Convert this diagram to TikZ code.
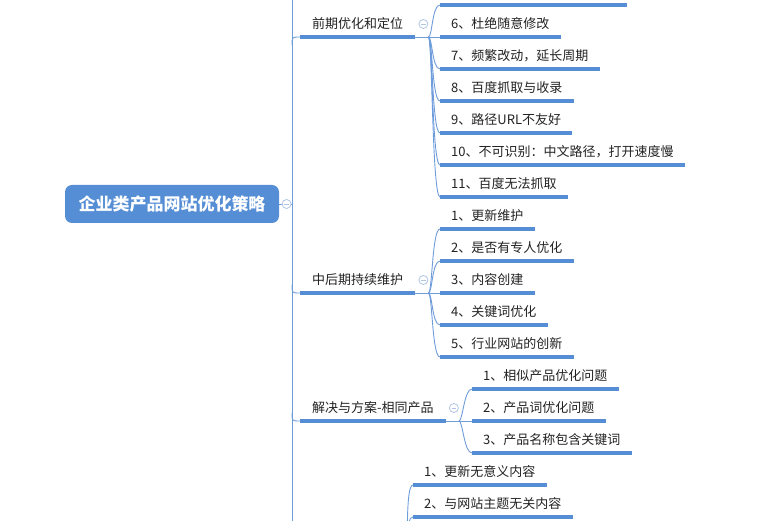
\documentclass[tikz,border=0pt]{standalone}
\usepackage{fontspec}
\setmainfont{Noto Sans CJK SC}
\usepackage{tikz}
\usetikzlibrary{positioning, calc}
\definecolor{mapblue}{RGB}{85,142,213}
\definecolor{linkblue}{RGB}{110,156,219}
\definecolor{togglegray}{RGB}{176,196,228}
\definecolor{inkdark}{RGB}{34,34,34}
\tikzset{
  rootbox/.style={rectangle, fill=mapblue, rounded corners=7pt, text=white,
    font=\fontsize{17}{20}\selectfont\bfseries, minimum width=214pt,
    minimum height=38pt, inner sep=0pt},
  topic/.style={anchor=south west, text=inkdark, font=\fontsize{13}{15}\selectfont,
    inner xsep=12pt, inner ysep=5pt, text height=10pt, text depth=3pt},
  leaf/.style={topic, inner xsep=11pt},
  uline/.style={line width=3.5pt, color=mapblue},
  link/.style={line width=0.9pt, color=linkblue},
  toggle/.style={circle, draw=togglegray, fill=white, minimum size=9pt,
    inner sep=0pt, line width=0.8pt,
    path picture={\draw[togglegray, line width=0.8pt]
      ([xshift=-2.3pt]path picture bounding box.center) --
      ([xshift=2.3pt]path picture bounding box.center);}}
}

\begin{document}
\begin{tikzpicture}[x=1pt, y=-1pt]
  \useasboundingbox (0,0) rectangle (764,521);
  \clip (0,0) rectangle (764,521);

  % Root
  \node[rootbox] (root) at (172,204) {企业类产品网站优化策略};
  \coordinate (trunktop) at (292,-10);
  \coordinate (trunkbot) at (292,540);

  % Branches
  \node[topic] (b1) at (300,37) {前期优化和定位};
  \node[topic] (b2) at (300,293) {中后期持续维护};
  \node[topic] (b3) at (300,421) {解决与方案-相同产品};

  % Leaves of b1
  \node[leaf, minimum width=187pt] (a5) at (440,5) {};
  \node[leaf] (a6) at (440,37) {6、杜绝随意修改};
  \node[leaf] (a7) at (440,69) {7、频繁改动，延长周期};
  \node[leaf] (a8) at (440,101) {8、百度抓取与收录};
  \node[leaf] (a9) at (440,133) {9、路径URL不友好};
  \node[leaf] (a10) at (440,165) {10、不可识别：中文路径，打开速度慢};
  \node[leaf] (a11) at (440,197) {11、百度无法抓取};

  % Leaves of b2
  \node[leaf] (m1) at (440,229) {1、更新维护};
  \node[leaf] (m2) at (440,261) {2、是否有专人优化};
  \node[leaf] (m3) at (440,293) {3、内容创建};
  \node[leaf] (m4) at (440,325) {4、关键词优化};
  \node[leaf] (m5) at (440,357) {5、行业网站的创新};

  % Leaves of b3
  \node[leaf] (s1) at (472,389) {1、相似产品优化问题};
  \node[leaf] (s2) at (472,421) {2、产品词优化问题};
  \node[leaf] (s3) at (472,453) {3、产品名称包含关键词};

  % Leaves of the cut-off branch
  \node[leaf] (d1) at (413,485) {1、更新无意义内容};
  \node[leaf] (d2) at (413,517) {2、与网站主题无关内容};

  % Fan points
  \coordinate (f1) at ($(b1.south east)+(13,0)$);
  \coordinate (f2) at ($(b2.south east)+(13,0)$);
  \coordinate (f3) at ($(b3.south east)+(13,0)$);
  \coordinate (f4) at (405,549);

  % Connections
  \draw[link] (trunktop) -- (trunkbot);
  \draw[link] (root.east) -- (root.east -| trunktop);
  \draw[link] (b1.south west -| trunktop) ++(0,8) .. controls +(0,-8) .. (b1.south west);
  \draw[link] (b2.south west -| trunktop) ++(0,-8) .. controls +(0,8) .. (b2.south west);
  \draw[link] (b3.south west -| trunktop) ++(0,-8) .. controls +(0,8) .. (b3.south west);
  \draw[link] (b1.south east) -- (a6.south west);
  \draw[link] (b2.south east) -- (m3.south west);
  \draw[link] (b3.south east) -- (s2.south west);
  \foreach \c in {a5,a7,a8,a9,a10,a11}
    \draw[link] (f1) .. controls +(4,0) and +(-8,0) .. (\c.south west);
  \foreach \c in {m1,m2,m4,m5}
    \draw[link] (f2) .. controls +(4,0) and +(-8,0) .. (\c.south west);
  \foreach \c in {s1,s3}
    \draw[link] (f3) .. controls +(4,0) and +(-8,0) .. (\c.south west);
  \foreach \c in {d1,d2}
    \draw[link] (f4) .. controls +(4,0) and +(-8,0) .. (\c.south west);

  % Underlines
  \foreach \c in {b1,b2,b3,a5,a6,a7,a8,a9,a10,a11,m1,m2,m3,m4,m5,s1,s2,s3,d1,d2}
    \draw[uline] (\c.south west) -- (\c.south east);

  % Toggles
  \node[toggle, right=2.5pt of root] (t0) {};
  \node[toggle] (t1) at ($(b1.south east)+(8,-13)$) {};
  \node[toggle] (t2) at ($(b2.south east)+(8,-13)$) {};
  \node[toggle] (t3) at ($(b3.south east)+(8,-13)$) {};
\end{tikzpicture}
\end{document}
